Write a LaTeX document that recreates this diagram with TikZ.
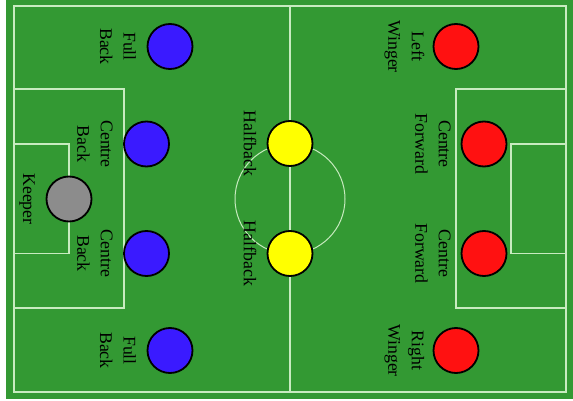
\documentclass[tikz,border=0pt]{standalone}
\usepackage{fontspec}
\setmainfont{Liberation Serif}
\definecolor{pitch}{HTML}{339933}
\definecolor{chalk}{HTML}{C8EBC0}
\definecolor{blueteam}{HTML}{3A1AFF}
\definecolor{redteam}{HTML}{FF1111}
\definecolor{keepergray}{HTML}{8C8C8C}
\definecolor{halfyellow}{HTML}{FFFF00}
\tikzset{
  lineline/.style={draw=chalk, line width=1.6pt},
  player/.style={circle, draw=black, line width=1.8pt, minimum size=45pt, inner sep=0pt},
  lbl/.style={rotate=-90, align=center, font=\fontsize{17.8}{23.5}\selectfont, inner sep=0pt}
}
\begin{document}
\begin{tikzpicture}[x=1pt,y=-1pt]
\useasboundingbox (0,0) rectangle (573,401);
\fill[white] (0,0) rectangle (573,401);
\fill[pitch] (6,0) rectangle (573,399);
% field markings
\draw[lineline] (14,6) rectangle (566,392);
\draw[lineline] (290,6) -- (290,392);
\draw[lineline] (14,89) rectangle (124,308);
\draw[lineline] (14,144) rectangle (69,253.5);
\draw[lineline] (566,89) rectangle (456,308);
\draw[lineline] (566,144) rectangle (511,253.5);
\draw[draw=chalk, line width=1pt] (290,199) circle (55);
% players
\node[player, fill=blueteam] (fbt) at (170,46.5) {};
\node[player, fill=blueteam] (cbt) at (146.5,144) {};
\node[player, fill=keepergray] (gk) at (69,199) {};
\node[player, fill=blueteam] (cbb) at (146.5,253.5) {};
\node[player, fill=blueteam] (fbb) at (170,350.5) {};
\node[player, fill=halfyellow] (hbt) at (290,143.5) {};
\node[player, fill=halfyellow] (hbb) at (290,253.5) {};
\node[player, fill=redteam] (lw) at (456,46.5) {};
\node[player, fill=redteam] (cft) at (484,144) {};
\node[player, fill=redteam] (cfb) at (484,253.5) {};
\node[player, fill=redteam] (rw) at (456,350.5) {};
% labels
\node[lbl] (lfbt) at (118,46.5) {Full\\Back};
\node[lbl] (lcbt) at (95,144) {Centre\\Back};
\node[lbl] (lgk) at (27,199) {Keeper};
\node[lbl] (lcbb) at (95,253.5) {Centre\\Back};
\node[lbl] (lfbb) at (118,350.5) {Full\\Back};
\node[lbl] (lhbt) at (250,143.5) {Halfback};
\node[lbl] (lhbb) at (250,253.5) {Halfback};
\node[lbl] (llw) at (404.5,46.5) {Left\\Winger};
\node[lbl] (lcft) at (433,144) {Centre\\Forward};
\node[lbl] (lcfb) at (433,253.5) {Centre\\Forward};
\node[lbl] (lrw) at (404.5,350.5) {Right\\Winger};
\end{tikzpicture}
\end{document}
